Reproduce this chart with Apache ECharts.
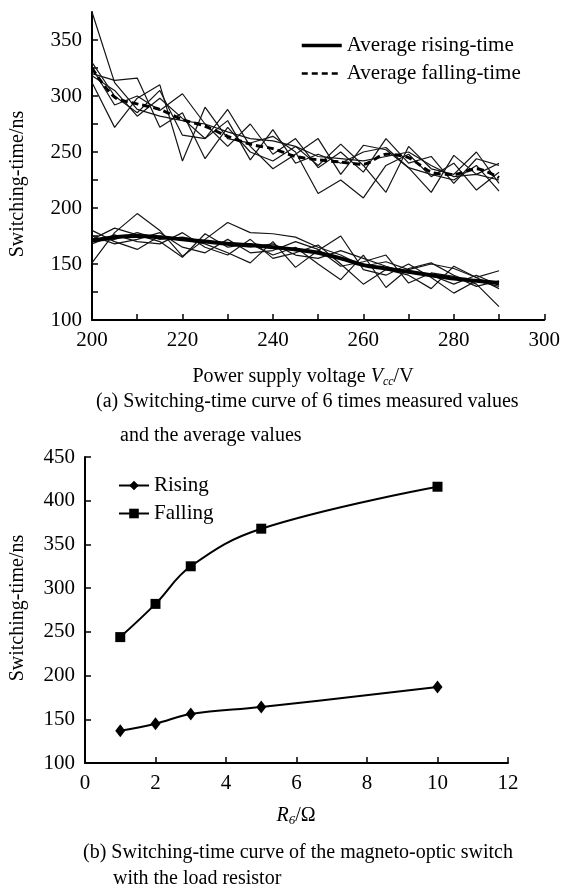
<!DOCTYPE html>
<html>
<head>
<meta charset="utf-8">
<script src="https://cdn.jsdelivr.net/npm/echarts@6/dist/echarts.min.js"></script>
<style>
  html, body { margin: 0; padding: 0; background: #fff; }
  #chart { width: 563px; height: 890px; }
</style>
</head>
<body>
<div id="chart"></div>
<script>
// (a) switching time vs power supply voltage
const voltage = [200, 205, 210, 215, 220, 225, 230, 235, 240, 245, 250, 255, 260, 265, 270, 275, 280, 285, 290];

const fall1 = [375, 312, 288, 282, 278, 275, 268, 262, 260, 255, 246, 244, 242, 246, 250, 238, 228, 230, 225];
const fall2 = [312, 272, 298, 310, 242, 290, 262, 258, 264, 250, 213, 225, 209, 238, 248, 228, 240, 216, 232];
const fall3 = [320, 314, 316, 272, 285, 244, 272, 250, 242, 255, 238, 257, 238, 214, 255, 235, 230, 250, 222];
const fall4 = [330, 300, 285, 305, 265, 262, 278, 243, 270, 240, 248, 240, 250, 254, 236, 214, 247, 230, 240];
const fall5 = [325, 292, 300, 287, 302, 275, 255, 275, 248, 262, 236, 250, 232, 262, 240, 246, 222, 244, 238];
const fall6 = [318, 305, 282, 298, 280, 262, 288, 255, 235, 248, 262, 230, 256, 252, 236, 230, 225, 238, 215];
const fallAvg = [325, 299, 293, 288, 279, 273, 264, 257, 253, 246, 243, 241, 239, 248, 245, 232, 230, 235, 227];

const rise1 = [151, 178, 195, 180, 157, 172, 187, 178, 177, 174, 165, 158, 148, 152, 145, 150, 146, 138, 144];
const rise2 = [180, 170, 163, 175, 172, 168, 160, 151, 170, 147, 162, 175, 145, 140, 150, 138, 124, 135, 130];
const rise3 = [172, 182, 176, 170, 156, 177, 165, 168, 158, 165, 150, 136, 158, 129, 146, 151, 140, 132, 112];
const rise4 = [175, 168, 172, 178, 165, 160, 172, 160, 162, 170, 163, 148, 152, 158, 133, 142, 139, 130, 135];
const rise5 = [168, 176, 170, 168, 178, 165, 158, 172, 155, 160, 167, 150, 132, 145, 140, 128, 148, 138, 128];
const rise6 = [170, 172, 178, 172, 174, 170, 167, 165, 168, 158, 155, 162, 155, 148, 142, 140, 132, 140, 131];
const riseAvg = [171, 174, 175, 174, 172, 170, 168, 167, 165, 163, 160, 155, 149, 146, 143, 140, 137, 135, 133];

// (b) switching time vs load resistor
const resistor = [1, 2, 3, 5, 10];
const risingB = [137, 145, 156, 164, 187];
const fallingB = [244, 282, 325, 368, 416];

const topXTicks = [200, 210, 220, 230, 240, 250, 260, 270, 280, 290, 300];
const topXLabels = [200, 220, 240, 260, 280, 300];
const topYTicks = [100, 125, 150, 175, 200, 225, 250, 275, 300, 325, 350];
const topYLabels = [100, 150, 200, 250, 300, 350];

const FONT = "'Liberation Serif', 'Times New Roman', serif";
const INK = '#000';

function pairs(xs, ys) {
  return xs.map((x, i) => [x, ys[i]]);
}

let myChart = echarts.init(document.getElementById('chart'));

const axisCommon = {
  axisLine: { show: true, onZero: false, lineStyle: { color: INK, width: 2 } },
  axisTick: { show: true, inside: true, length: 6, lineStyle: { color: INK, width: 1.5 } },
  axisLabel: { color: INK, fontFamily: FONT, fontSize: 21 },
  splitLine: { show: false },
};

const measured = [fall1, fall2, fall3, fall4, fall5, fall6, rise1, rise2, rise3, rise4, rise5, rise6].map((run, i) => ({
  type: 'line',
  name: 'run' + i,
  xAxisIndex: 0,
  yAxisIndex: 0,
  data: pairs(voltage, run),
  symbol: 'none',
  silent: true,
  lineStyle: { color: '#151515', width: 1.2 },
  z: 2,
}));

myChart.setOption({
  animation: false,
  backgroundColor: '#fff',
  grid: [
    { left: 92, top: 12, width: 455, height: 308 },
    { left: 85, top: 457, width: 423, height: 306 },
  ],
  legend: [
    {
      data: [
        { name: 'Average rising-time', lineStyle: { width: 3.5, type: 'solid' } },
        { name: 'Average falling-time', lineStyle: { width: 2.5, type: [6, 4] } },
      ],
      left: 295,
      top: 30,
      orient: 'vertical',
      itemWidth: 40,
      itemHeight: 14,
      itemGap: 7,
      itemStyle: { opacity: 0 },
      textStyle: { color: INK, fontFamily: FONT, fontSize: 21, lineHeight: 21 },
    },
    {
      data: ['Rising', 'Falling'],
      left: 113,
      top: 470,
      orient: 'vertical',
      itemWidth: 30,
      itemHeight: 12,
      itemGap: 7,
      textStyle: { color: INK, fontFamily: FONT, fontSize: 21, lineHeight: 21 },
    },
  ],
  xAxis: [
    {
      ...axisCommon,
      type: 'value',
      gridIndex: 0,
      min: 200,
      max: 300,
      interval: 20,
      axisTick: { ...axisCommon.axisTick, customValues: topXTicks },
      axisLabel: { ...axisCommon.axisLabel, margin: 10, customValues: topXLabels },
    },
    {
      ...axisCommon,
      type: 'value',
      gridIndex: 1,
      min: 0,
      max: 12,
      interval: 2,
      axisLabel: { ...axisCommon.axisLabel, margin: 10 },
    },
  ],
  yAxis: [
    {
      ...axisCommon,
      type: 'value',
      gridIndex: 0,
      min: 100,
      max: 375,
      interval: 50,
      axisTick: { ...axisCommon.axisTick, customValues: topYTicks },
      axisLabel: { ...axisCommon.axisLabel, margin: 10, customValues: topYLabels },
    },
    {
      ...axisCommon,
      type: 'value',
      gridIndex: 1,
      min: 100,
      max: 450,
      interval: 50,
      axisLabel: { ...axisCommon.axisLabel, margin: 10 },
    },
  ],
  graphic: [
    {
      type: 'text', x: 18, y: 184, rotation: Math.PI / 2,
      style: { text: 'Switching-time/ns', font: '20px ' + FONT, fill: INK, align: 'center', verticalAlign: 'middle' },
    },
    {
      type: 'text', x: 303, y: 377,
      style: {
        text: 'Power supply voltage {i|V}{s|cc}/V',
        font: '20px ' + FONT, fill: INK, align: 'center', verticalAlign: 'middle',
        rich: {
          i: { fontFamily: FONT, fontSize: 20, fontStyle: 'italic', fill: INK },
          s: { fontFamily: FONT, fontSize: 12, fontStyle: 'italic', fill: INK, padding: [10, 0, 0, 0] },
        },
      },
    },
    {
      type: 'text', x: 96, y: 402,
      style: { text: '(a) Switching-time curve of 6 times measured values', font: '20px ' + FONT, fill: INK, align: 'left', verticalAlign: 'middle' },
    },
    {
      type: 'text', x: 120, y: 436,
      style: { text: 'and the average values', font: '20px ' + FONT, fill: INK, align: 'left', verticalAlign: 'middle' },
    },
    {
      type: 'text', x: 18, y: 608, rotation: Math.PI / 2,
      style: { text: 'Switching-time/ns', font: '20px ' + FONT, fill: INK, align: 'center', verticalAlign: 'middle' },
    },
    {
      type: 'text', x: 296, y: 816,
      style: {
        text: '{i|R}{s|6}/Ω',
        font: '20px ' + FONT, fill: INK, align: 'center', verticalAlign: 'middle',
        rich: {
          i: { fontFamily: FONT, fontSize: 20, fontStyle: 'italic', fill: INK },
          s: { fontFamily: FONT, fontSize: 13, fontStyle: 'italic', fill: INK, padding: [10, 0, 0, 0] },
        },
      },
    },
    {
      type: 'text', x: 83, y: 853,
      style: { text: '(b) Switching-time curve of the magneto-optic switch', font: '20px ' + FONT, fill: INK, align: 'left', verticalAlign: 'middle' },
    },
    {
      type: 'text', x: 113, y: 879,
      style: { text: 'with the load resistor', font: '20px ' + FONT, fill: INK, align: 'left', verticalAlign: 'middle' },
    },
  ],
  series: [
    ...measured,
    {
      type: 'line',
      name: 'Average rising-time',
      xAxisIndex: 0,
      yAxisIndex: 0,
      data: pairs(voltage, riseAvg),
      symbol: 'none',
      smooth: 0.3,
      itemStyle: { color: INK },
      lineStyle: { color: INK, width: 4 },
      z: 4,
    },
    {
      type: 'line',
      name: 'Average falling-time',
      xAxisIndex: 0,
      yAxisIndex: 0,
      data: pairs(voltage, fallAvg),
      symbol: 'none',
      smooth: 0.3,
      itemStyle: { color: INK },
      lineStyle: { color: INK, width: 3, type: [7, 4] },
      z: 4,
    },
    {
      type: 'line',
      name: 'Rising',
      xAxisIndex: 1,
      yAxisIndex: 1,
      data: pairs(resistor, risingB),
      symbol: 'diamond',
      symbolSize: [10, 13],
      smooth: 0.4,
      itemStyle: { color: INK },
      lineStyle: { color: INK, width: 2 },
    },
    {
      type: 'line',
      name: 'Falling',
      xAxisIndex: 1,
      yAxisIndex: 1,
      data: pairs(resistor, fallingB),
      symbol: 'rect',
      symbolSize: 10,
      smooth: 0.4,
      itemStyle: { color: INK },
      lineStyle: { color: INK, width: 2 },
    },
  ],
});

window.onresize = function () {
  myChart.resize();
};
</script>
</body>
</html>
